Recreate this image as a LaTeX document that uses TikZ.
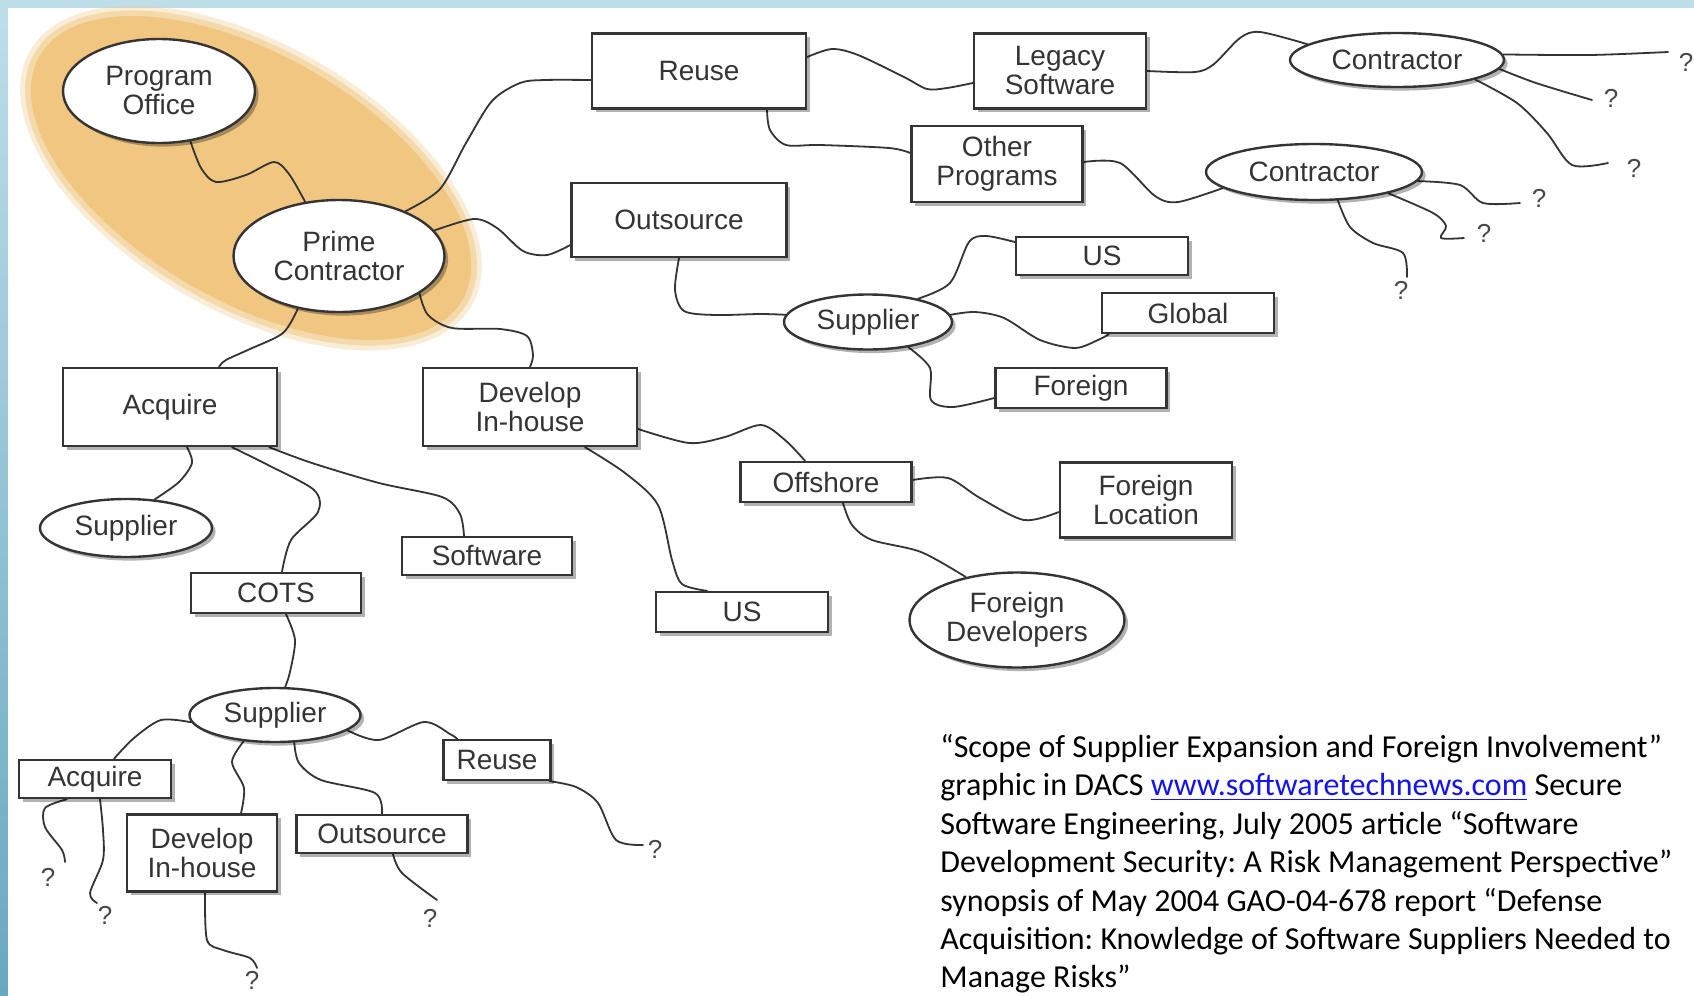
\documentclass[tikz,border=0pt]{standalone}
\usepackage{fontspec}
\setmainfont{Liberation Sans}
\newfontfamily\captionfont{Carlito}
\usetikzlibrary{shapes.geometric,shadows}
\pgfdeclarelayer{back}
\pgfdeclarelayer{wires}
\pgfsetlayers{back,wires,main}

\definecolor{bandtop}{RGB}{190,222,234}
\definecolor{bandbot}{RGB}{105,168,192}
\definecolor{halo}{RGB}{240,198,128}
\definecolor{ink}{RGB}{52,52,52}
\definecolor{link}{RGB}{20,20,235}

\tikzset{
  lbl/.style={font=\fontsize{14}{14.5}\selectfont, align=center, inner sep=0pt, text=ink},
  framed/.style={lbl, draw=ink, line width=1.2pt, fill=white,
    drop shadow={shadow xshift=1.8pt, shadow yshift=-1.8pt, fill=black, opacity=0.3}},
  boxnode/.style={framed, rectangle},
  ovalnode/.style={framed, ellipse},
  wire/.style={draw=ink, line width=0.9pt, line cap=round, line join=round},
  qmark/.style={font=\fontsize{13}{13}\selectfont, inner sep=0pt, text=ink!90},
}

\begin{document}
\begin{tikzpicture}[x=0.5pt, y=-0.5pt]
\useasboundingbox (0,0) rectangle (1694,996);

% slide background and the highlighted region
\begin{pgfonlayer}{back}
  \shade[top color=bandtop, bottom color=bandbot] (0,0) rectangle (1694,996);
  \fill[white] (8,8) rectangle (1694,996);
  \begin{scope}[shift={(251,178)}, rotate=-30]
    \fill[halo, opacity=0.3] (0,0) ellipse [x radius=127.5pt, y radius=67pt];
    \fill[halo, opacity=0.5] (0,0) ellipse [x radius=125pt, y radius=64.5pt];
    \fill[halo] (0,0) ellipse [x radius=122pt, y radius=61.5pt];
  \end{scope}
\end{pgfonlayer}

% nodes
\node[ovalnode, minimum width=96pt, minimum height=52pt] (po) at (159,91) {Program\\Office};
\node[ovalnode, minimum width=105.5pt, minimum height=56pt] (pc) at (339,256) {Prime\\Contractor};
\node[boxnode, minimum width=107pt, minimum height=37.5pt] (reuse) at (699,71) {Reuse};
\node[boxnode, minimum width=86pt, minimum height=37.5pt] (legacy) at (1060,71) {Legacy\\Software};
\node[boxnode, minimum width=85.5pt, minimum height=38pt] (other) at (997,164) {Other\\Programs};
\node[boxnode, minimum width=107.5pt, minimum height=37pt] (outs) at (679,220) {Outsource};
\node[ovalnode, minimum width=84pt, minimum height=27.5pt] (supA) at (868,322) {Supplier};
\node[boxnode, minimum width=86pt, minimum height=19pt] (usA) at (1102,256) {US};
\node[boxnode, minimum width=86pt, minimum height=20pt] (global) at (1188,313) {Global};
\node[boxnode, minimum width=85.5pt, minimum height=20pt] (foreign) at (1081,388) {Foreign};
\node[ovalnode, minimum width=107pt, minimum height=27pt] (conA) at (1397,60) {Contractor};
\node[ovalnode, minimum width=108pt, minimum height=28pt] (conB) at (1314,172) {Contractor};
\node[boxnode, minimum width=107pt, minimum height=39pt] (acq) at (170,407) {Acquire};
\node[boxnode, minimum width=107pt, minimum height=39pt] (dev) at (530,407) {Develop\\In-house};
\node[ovalnode, minimum width=86pt, minimum height=29pt] (supB) at (126,528) {Supplier};
\node[boxnode, minimum width=85pt, minimum height=19pt] (soft) at (487,556) {Software};
\node[boxnode, minimum width=85pt, minimum height=20pt] (cots) at (276,593) {COTS};
\node[boxnode, minimum width=85.5pt, minimum height=20pt] (offs) at (826,482) {Offshore};
\node[boxnode, minimum width=86pt, minimum height=37.5pt] (floc) at (1146,500) {Foreign\\Location};
\node[boxnode, minimum width=86pt, minimum height=20pt] (usB) at (742,612) {US};
\node[ovalnode, minimum width=107.5pt, minimum height=47.5pt] (fdev) at (1017,620) {Foreign\\Developers};
\node[ovalnode, minimum width=85.5pt, minimum height=27pt] (supC) at (275,715) {Supplier};
\node[boxnode, minimum width=76pt, minimum height=19pt] (acqS) at (95,779) {Acquire};
\node[boxnode, minimum width=75pt, minimum height=38.5pt] (devS) at (202,853) {Develop\\In-house};
\node[boxnode, minimum width=85.5pt, minimum height=19pt] (outsS) at (382,834) {Outsource};
\node[boxnode, minimum width=53.5pt, minimum height=20pt] (reuseS) at (497,760) {Reuse};

% open ends
\node[qmark] (q1) at (48,877) {?};
\node[qmark] (q2) at (105,915) {?};
\node[qmark] (q3) at (252,980) {?};
\node[qmark] (q4) at (430,918) {?};
\node[qmark] (q5) at (655,849) {?};
\node[qmark] (q6) at (1686,62) {?};
\node[qmark] (q7) at (1611,98) {?};
\node[qmark] (q8) at (1634,168) {?};
\node[qmark] (q9) at (1539,198) {?};
\node[qmark] (q10) at (1484,233) {?};
\node[qmark] (q11) at (1401,290) {?};
\coordinate (e1) at (65,862);
\coordinate (e2) at (97,903);
\coordinate (e3) at (257,968);
\coordinate (e4) at (437,900);
\coordinate (e5) at (643,845);
\coordinate (e6) at (1668,52);
\coordinate (e7) at (1592,100);
\coordinate (e8) at (1608,163);
\coordinate (e9) at (1520,203);
\coordinate (e10) at (1464,238);
\coordinate (e11) at (1407,277);

% connectors
\begin{pgfonlayer}{wires}
\draw[wire] plot[smooth] coordinates {(po.-58) (201,168) (216,182) (246,175) (274,162) (289,174) (pc.122)};
\draw[wire] plot[smooth] coordinates {(pc.34) (440,189) (466,143) (492,101) (520,83) (545,80) ([yshift=-4.5pt]reuse.west)};
\draw[wire] plot[smooth] coordinates {(pc.15) (474,219) (497,228) (523,251) (547,255) ([yshift=-12.5pt]outs.west)};
\draw[wire] plot[smooth] coordinates {(pc.-25) (428,315) (452,328) (500,329) (527,336) (533,355) (dev.north)};
\draw[wire] plot[smooth] coordinates {(pc.-128) (283,333) (250,349) (226,360) ([xshift=24.5pt]acq.north)};
\draw[wire] plot[smooth] coordinates {([yshift=7pt]reuse.east) (832,49) (858,55) (904,77) (927,89) (947,88) ([yshift=-6pt]legacy.west)};
\draw[wire] plot[smooth] coordinates {([xshift=34pt]reuse.south) (770,130) (786,145) (820,145) (889,148) ([yshift=5.5pt]other.west)};
\draw[wire] plot[smooth] coordinates {([yshift=1pt]other.east) (1120,163) (1155,196) (1178,202) (conB.190)};
\draw[wire] plot[smooth] coordinates {(legacy.east) (1195,72) (1214,64) (1240,38) (1260,32) (conA.170)};
\draw[wire] plot[smooth] coordinates {(outs.south) (675,290) (684,311) (715,315) (760,314) (supA.175)};
\draw[wire] plot[smooth] coordinates {(supA.25) (950,283) (969,242) (986,236) ([yshift=7pt]usA.west)};
\draw[wire] plot[smooth] coordinates {(supA.5) (975,312) (1004,318) (1040,340) (1075,348) (1098,340) ([xshift=4pt]global.south west)};
\draw[wire] plot[smooth] coordinates {(supA.-32) (930,368) (931,400) (953,407) ([yshift=-5pt]foreign.west)};
\draw[wire] plot[smooth] coordinates {([yshift=-11pt]dev.east) (689,443) (725,437) (761,425) (785,440) ([xshift=-10.5pt]offs.north)};
\draw[wire] plot[smooth] coordinates {([xshift=27.5pt]dev.south) (625,473) (658,505) (672,560) (682,584) ([xshift=-17.5pt]usB.north)};
\draw[wire] plot[smooth] coordinates {([yshift=1pt]offs.east) (948,478) (980,498) (1024,520) ([yshift=-6pt]floc.west)};
\draw[wire] plot[smooth] coordinates {([xshift=8.5pt]offs.south) (852,525) (872,540) (921,552) (fdev.140)};
\draw[wire] plot[smooth] coordinates {([xshift=8.5pt]acq.south) (192,463) (179,482) (supB.45)};
\draw[wire] plot[smooth] coordinates {([xshift=31pt]acq.south) (268,465) (314,490) (318,512) (291,540) ([xshift=3pt]cots.north)};
\draw[wire] plot[smooth] coordinates {([xshift=-4.5pt]acq.south east) (312,463) (379,483) (442,497) (460,514) ([xshift=-11.5pt]soft.north)};
\draw[wire] plot[smooth] coordinates {([xshift=5pt]cots.south) (295,640) (290,672) (supC.70)};
\draw[wire] plot[smooth] coordinates {(supC.185) (161,720) (134,738) ([xshift=9.5pt]acqS.north)};
\draw[wire] plot[smooth] coordinates {(supC.-140) (232,762) (244,788) ([xshift=19.5pt]devS.north)};
\draw[wire] plot[smooth] coordinates {(supC.-55) (299,763) (321,780) (375,793) (outsS.north)};
\draw[wire] plot[smooth] coordinates {(supC.-12) (379,740) (424,722) (450,734) ([xshift=7.5pt]reuseS.north west)};
\draw[wire] plot[smooth] coordinates {([xshift=-14pt]acqS.south) (45,808) (45,827) (62,850) (e1)};
\draw[wire] plot[smooth] coordinates {([xshift=2.5pt]acqS.south) (103,830) (103,860) (90,893) (e2)};
\draw[wire] plot[smooth] coordinates {([xshift=1.5pt]devS.south) (207,940) (223,950) (250,958) (e3)};
\draw[wire] plot[smooth] coordinates {([xshift=5.5pt]outsS.south) (402,873) (e4)};
\draw[wire] plot[smooth] coordinates {([xshift=-1pt]reuseS.south east) (576,787) (598,803) (616,840) (e5)};
\draw[wire] plot[smooth] coordinates {(conA.3) (1590,55) (e6)};
\draw[wire] plot[smooth] coordinates {(conA.-5) (1536,83) (e7)};
\draw[wire] plot[smooth] coordinates {(conA.-14) (1517,103) (1547,133) (1572,165) (e8)};
\draw[wire] plot[smooth] coordinates {(conB.-5) (1460,185) (1483,203) (e9)};
\draw[wire] plot[smooth] coordinates {(conB.-16) (1433,213) (1446,226) (1441,238) (e10)};
\draw[wire] plot[smooth] coordinates {(conB.-50) (1350,227) (1373,243) (1403,253) (e11)};
\end{pgfonlayer}

% source note
\node[anchor=north west, inner sep=0pt, align=left, text=black,
      font=\captionfont\fontsize{16}{19.2}\selectfont\frenchspacing] (cap) at (940,734)
  {“Scope of Supplier Expansion and Foreign Involvement”\\
   graphic in DACS \textcolor{link}{\underline{www.softwaretechnews.com}} Secure\\
   Software Engineering, July 2005 article “Software\\
   Development Security: A Risk Management Perspective”\\
   synopsis of May 2004 GAO-04-678 report “Defense\\
   Acquisition: Knowledge of Software Suppliers Needed to\\
   Manage Risks”};
\end{tikzpicture}
\end{document}
